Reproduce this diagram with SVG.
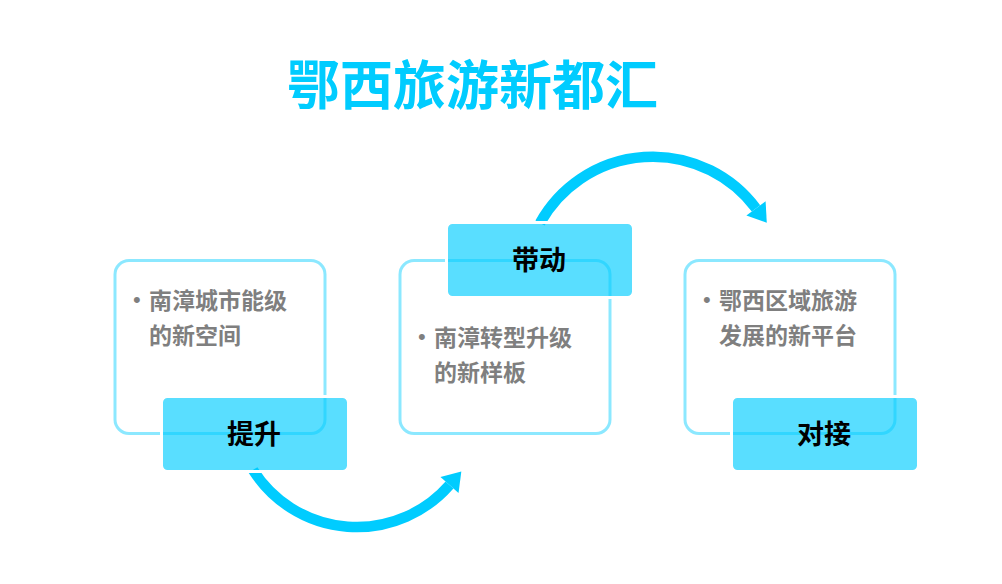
<svg xmlns="http://www.w3.org/2000/svg" width="1002" height="584" viewBox="0 0 1002 584">
<style>
.title{font-family:"Noto Sans CJK SC","Noto Sans",sans-serif;font-weight:bold;font-size:53px;fill:#00CCFF}
.box{fill:#FFFFFF;stroke:#00CCFF;stroke-opacity:0.45;stroke-width:3}
.label{fill:#00CCFF;fill-opacity:0.65;stroke:#FFFFFF;stroke-width:3}
.lt{font-family:"Noto Sans CJK SC","Noto Sans",sans-serif;font-weight:bold;font-size:27px;fill:#000000;text-anchor:middle}
.bt{font-family:"Noto Sans CJK SC","Noto Sans",sans-serif;font-weight:bold;font-size:23px;fill:#7F7F7F}
.bul{font-family:"Liberation Sans",sans-serif;font-size:22px;fill:#7F7F7F}
.arc{fill:none;stroke:#00CCFF;stroke-width:10.5}
</style>
<defs>
<marker id="ah" markerUnits="userSpaceOnUse" markerWidth="18" markerHeight="26" refX="0" refY="13" orient="auto" overflow="visible">
<path d="M0,1 L18,13 L0,25 z" fill="#00CCFF"/>
</marker>
</defs>
<text class="title" x="472.5" y="105" text-anchor="middle">鄂西旅游新都汇</text>
<g id="connectors">
<path class="arc" d="M253,470 A123,123 0 0,0 449.5,485" marker-end="url(#ah)"/>
<path class="arc" d="M540,223 A129,129 0 0,1 756,208.4" marker-end="url(#ah)"/>
</g>
<g id="node1">
<rect class="box" x="115" y="260.5" width="210" height="173" rx="14"/>
<text class="bul" x="133" y="307">•</text>
<text class="bt" x="149" y="309">南漳城市能级</text>
<text class="bt" x="149" y="344">的新空间</text>
<rect class="label" x="161.5" y="396.5" width="187" height="75" rx="6"/>
<text class="lt" x="254" y="444">提升</text>
</g>
<g id="node2">
<rect class="box" x="400" y="260.5" width="210" height="173" rx="14"/>
<text class="bul" x="418" y="344">•</text>
<text class="bt" x="434" y="346">南漳转型升级</text>
<text class="bt" x="434" y="381">的新样板</text>
<rect class="label" x="446.5" y="222.5" width="187" height="75" rx="6"/>
<text class="lt" x="539" y="270">带动</text>
</g>
<g id="node3">
<rect class="box" x="685" y="260.5" width="210" height="173" rx="14"/>
<text class="bul" x="703" y="307">•</text>
<text class="bt" x="719" y="309">鄂西区域旅游</text>
<text class="bt" x="719" y="344">发展的新平台</text>
<rect class="label" x="731.5" y="396.5" width="187" height="75" rx="6"/>
<text class="lt" x="824" y="444">对接</text>
</g>
</svg>
